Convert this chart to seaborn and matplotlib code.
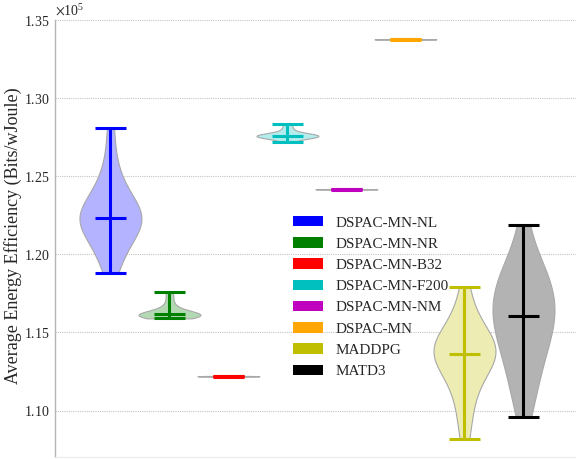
import numpy as np
import pandas as pd
import matplotlib
matplotlib.use("Agg")
import matplotlib.pyplot as plt
from matplotlib.patches import Patch
from matplotlib.ticker import ScalarFormatter, MultipleLocator
import seaborn as sns

# Average energy efficiency (Bits/wJoule) per evaluation run, for each method
methods = ["DSPAC-MN-NL", "DSPAC-MN-NR", "DSPAC-MN-B32", "DSPAC-MN-F200",
           "DSPAC-MN-NM", "DSPAC-MN", "MADDPG", "MATD3"]

dspac_mn_nl = [118780, 119600, 120200, 120700, 121100, 121400, 121700, 121900,
               122100, 122250, 122340, 122500, 122700, 122900, 123200, 123500,
               123900, 124400, 125100, 126200, 128100]
dspac_mn_nr = [115900, 115930, 115960, 115990, 116010, 116030, 116050, 116070,
               116090, 116110, 116130, 116150, 116160, 116180, 116210, 116240,
               116280, 116330, 116400, 116500, 116620, 116800, 117050, 117350,
               117600]
dspac_mn_b32 = [112160, 112175, 112190, 112200, 112215]
dspac_mn_f200 = [127210, 127400, 127490, 127530, 127550, 127570, 127580, 127590,
                 127600, 127620, 127650, 127720, 127880, 128100, 128360]
dspac_mn_nm = [124140, 124150, 124160, 124170, 124180]
dspac_mn = [133740, 133750, 133760, 133770, 133780]
maddpg = [108160, 109500, 110500, 111300, 111900, 112400, 112800, 113100,
          113300, 113500, 113600, 113800, 114000, 114200, 114400, 114600,
          114900, 115300, 115800, 116600, 117890]
matd3 = [109580, 110900, 111800, 112600, 113300, 113900, 114400, 114900,
         115300, 115700, 116050, 116400, 116700, 117100, 117500, 117900,
         118300, 118800, 119300, 119800, 121900]

samples = [dspac_mn_nl, dspac_mn_nr, dspac_mn_b32, dspac_mn_f200,
           dspac_mn_nm, dspac_mn, maddpg, matd3]

colors = [(0, 0, 1), (0, 0.5, 0), (1, 0, 0), (0, 0.75, 0.75),
          (0.75, 0, 0.75), (1, 0.65, 0), (0.75, 0.75, 0), (0, 0, 0)]

df = pd.DataFrame({
    "method": np.repeat(methods, [len(s) for s in samples]),
    "value": np.concatenate(samples),
})

sns.set_theme(style="white")
plt.rcParams["font.family"] = ["Liberation Serif", "DejaVu Serif"]
plt.rcParams["mathtext.fontset"] = "stix"

fig = plt.figure(figsize=(5.76, 4.59), dpi=100)
ax = fig.add_axes([55 / 576, 0.0035, 1 - 55 / 576, 0.9529])

# light translucent-looking fills
alpha = 0.3
fills = [tuple(1 - alpha * (1 - c) for c in col) for col in colors]

sns.violinplot(data=df, x="method", y="value", hue="method", order=methods,
               hue_order=methods, palette=fills, saturation=1, cut=0,
               inner=None, density_norm="width", width=1.05, linewidth=0.8,
               linecolor="#a8a8a8", legend=False, ax=ax)

# min / max caps, whisker line and median for each method
cap = 0.26
for i, (vals, col) in enumerate(zip(samples, colors)):
    lo, hi, med = np.min(vals), np.max(vals), np.median(vals)
    ax.plot([i, i], [lo, hi], color=col, lw=2.2, solid_capstyle="butt", zorder=5)
    for yv in (lo, hi, med):
        ax.plot([i - cap, i + cap], [yv, yv], color=col, lw=2.2,
                solid_capstyle="butt", zorder=5)

ax.set_xlim(-0.94, 7.89)
ax.set_ylim(107000, 135000)
ax.yaxis.set_major_locator(MultipleLocator(5000))
fmt = ScalarFormatter(useMathText=True)
fmt.set_powerlimits((0, 0))
ax.yaxis.set_major_formatter(fmt)
ax.yaxis.get_offset_text().set_fontsize(10)
ax.yaxis.get_offset_text().set_color("#262626")

ax.set_xticks([])
ax.set_xlabel("")
ax.set_ylabel("Average Energy Efficiency (Bits/wJoule)", fontsize=13,
              color="#262626")
ax.yaxis.set_label_coords(-0.064, 0.506)
ax.tick_params(axis="y", length=0, labelsize=10, labelcolor="#262626", pad=4)

ax.grid(axis="y", color="#c4c4c4", linestyle=(0, (1, 1)), linewidth=0.8)
ax.set_axisbelow(True)
for s in ("top", "right"):
    ax.spines[s].set_visible(False)
ax.spines["left"].set_color("#b4b4b4")
ax.spines["left"].set_linewidth(1.0)
ax.spines["bottom"].set_color("#ececec")
ax.spines["bottom"].set_linewidth(0.8)

handles = [Patch(facecolor=c, edgecolor="none", label=m)
           for m, c in zip(methods, colors)]
ax.legend(handles=handles, loc="upper left", frameon=False, fontsize=10.9,
          handlelength=2.0, handleheight=0.68, handletextpad=0.8,
          labelspacing=0.51, borderpad=0, borderaxespad=0,
          bbox_to_anchor=(293 / 576, 1 - 216 / 459),
          bbox_transform=fig.transFigure)

fig.savefig("out.png", dpi=100)
